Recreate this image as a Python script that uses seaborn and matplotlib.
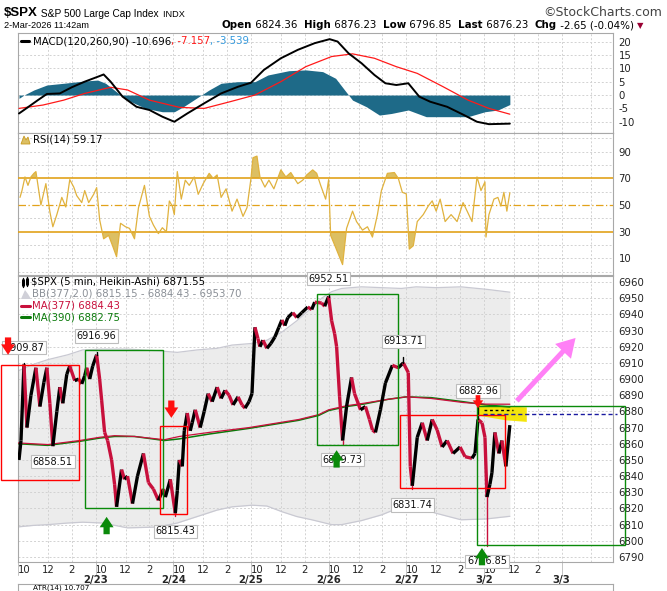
import matplotlib
matplotlib.use("Agg")
import matplotlib.pyplot as plt
import numpy as np
import pandas as pd
import seaborn as sns
from matplotlib.collections import LineCollection
from matplotlib.patches import Rectangle, Polygon

# x values everywhere: 5-minute bar number counted from the Fri 2/20 09:30 open
# (78 bars per session, sessions packed back to back like the original chart)
SESSION_DAYS = ["2/20", "2/23", "2/24", "2/25", "2/26", "2/27", "3/2", "3/3"]
HOUR_LABELS = ["10", "12", "2"]
HOUR_BARS = [6, 30, 54]
BARS_PER_DAY = 78

# Heikin-Ashi closes
price_bar = [1, 3, 6, 9, 13, 18, 22, 26, 29, 32,
             35, 39, 42, 45, 49, 52, 57, 61, 64, 67,
             69, 72, 75, 79, 82, 84, 87, 90, 94, 97,
             99, 104, 107, 110, 115, 120, 126, 131, 136, 141,
             146, 148, 153, 158, 160, 162, 165, 167, 170, 173,
             175, 178, 183, 187, 191, 195, 200, 204, 208, 212,
             216, 221, 225, 228, 232, 235, 238, 241, 243, 246,
             250, 254, 258, 262, 265, 268, 271, 276, 280, 285,
             291, 295, 298, 305, 308, 312, 315, 318, 320, 323,
             326, 330, 335, 338, 344, 349, 353, 356, 359, 364,
             369, 376, 382, 387, 392, 394, 396, 401, 406, 411,
             416, 421, 426, 431, 437, 444, 449, 456, 459, 462,
             466, 469, 471, 474, 476, 479, 483, 486, 490, 494]
price_close = [6850, 6862, 6909, 6870, 6890, 6907, 6883, 6898, 6907, 6885,
               6858.5, 6880, 6895, 6885, 6903, 6908, 6899, 6900, 6897, 6902,
               6907, 6900, 6908, 6915, 6900, 6887, 6867, 6862, 6850, 6835,
               6821, 6844, 6838, 6840, 6823, 6840, 6854, 6836, 6832, 6825,
               6832, 6827, 6838, 6817, 6831, 6850, 6846, 6868, 6879, 6868,
               6873, 6881, 6870, 6880, 6891, 6886, 6895, 6888, 6893, 6890,
               6884, 6889, 6884, 6882, 6886, 6891, 6932, 6925, 6920, 6924,
               6919, 6922, 6926, 6932, 6936.5, 6933, 6938, 6941, 6938, 6941,
               6944.5, 6943, 6947.5, 6947, 6945, 6951, 6936, 6928, 6920, 6889,
               6862, 6883, 6901, 6891, 6881, 6883, 6875, 6868.5, 6867, 6881,
               6897.5, 6908.5, 6907, 6910, 6904, 6846, 6834, 6864, 6873, 6862,
               6875, 6868.5, 6858, 6862, 6854, 6858, 6852, 6851, 6854, 6875,
               6873, 6864, 6827, 6835, 6842, 6867, 6854, 6862, 6846, 6871.5]

# labelled highs / lows
ext_bar = [6, 79, 35, 158, 312, 326, 387, 396, 462, 471]
ext_val = [6909.87, 6916.96, 6858.51, 6815.43, 6952.51, 6859.73, 6913.71, 6831.74, 6882.96, 6796.85]
ext_kind = ["high", "high", "low", "low", "high", "low", "high", "low", "high", "low"]

# Bollinger bands (377, 2.0)
bb_bar = [0, 15, 30, 50, 65, 85, 110, 140, 160, 180, 200, 215, 235, 250, 265, 280, 295, 305, 315, 325,
          345, 365, 385, 400, 420, 445, 470, 494]
bb_upper = [6905, 6909, 6912, 6915, 6918, 6918.5, 6918.5, 6917.5, 6916.5, 6918, 6919, 6921, 6922, 6924,
            6929, 6936, 6944, 6950, 6954, 6956, 6957, 6956.5, 6956, 6957, 6956.5, 6957, 6955.5, 6953.7]
bb_lower = [6808.6, 6809.5, 6810, 6811, 6811.5, 6811, 6808, 6808.5, 6811, 6815, 6819, 6821, 6822, 6821.5,
            6818, 6815, 6813, 6811.5, 6810, 6810, 6812.5, 6816, 6821, 6821, 6817, 6813, 6813.5, 6815.15]

# moving averages
ma_bar = [0, 30, 62, 82, 97, 117, 147, 162, 192, 232, 282, 302, 312, 330, 347, 372, 390, 415, 447, 470, 494]
ma377 = [6860.5, 6859.5, 6862, 6864, 6865, 6864.5, 6862.5, 6864.5, 6867, 6870, 6875, 6878, 6881, 6883.5,
         6885, 6887.5, 6889, 6888, 6885.5, 6884.5, 6884.43]
ma390 = [6860, 6859, 6861.5, 6863.5, 6864.5, 6864.5, 6862, 6863, 6866, 6869.5, 6874.5, 6877.5, 6880.5,
         6883, 6884.5, 6887.5, 6889, 6888.5, 6886, 6884, 6882.75]

# MACD(120,260,90)
macd_bar = [1, 6, 20, 29, 42, 54, 67, 82, 86, 93, 105, 119, 132, 145, 157, 170, 187, 204, 221, 234,
            247, 264, 281, 298, 313, 321, 332, 345, 358, 369, 380, 392, 403, 414, 431, 448, 461, 473, 494]
macd_line = [-6.9, -5.6, -1.9, 0.4, 0.6, 2.9, 5, 7.1, 7.7, 5, -0.6, -4.4, -5.6, -8.1, -10, -6.9, -3.1,
             0.6, 3.1, 4.6, 9.4, 13.75, 16.9, 19.4, 20.9, 20, 15.6, 11.9, 7.5, 4.4, 3.75, 4.4, -0.6,
             -2.5, -4.4, -7.5, -10, -10.9, -10.7]
signal_bar = [1, 25, 46, 67, 93, 110, 132, 162, 187, 213, 238, 264, 289, 315, 336, 358, 380, 401, 427,
              452, 473, 494]
signal_line = [-5, -3.75, -1.9, 0.6, 2.9, 1.9, -1.9, -4.6, -5, -2.5, 0, 5, 10.6, 14.4, 15.4, 13.75,
               10.6, 8.1, 3.1, -1.9, -5, -7.16]
hist_bar = [1, 6, 16, 29, 46, 67, 80, 88, 101, 110, 128, 145, 157, 166, 179, 192, 204, 221, 238, 251,
            272, 289, 306, 319, 328, 336, 350, 363, 375, 392, 410, 431, 452, 469, 482, 494]
hist_vals = [-1.25, 0, 1.9, 3.75, 4.4, 5.25, 5.6, 4.4, 0.6, -1.9, -5, -6.25, -6.25, -4.4, -1.25, 1.9,
             4.4, 5, 5, 7.5, 9.1, 9.4, 8.75, 6.25, 1.9, -1.9, -4.4, -7.5, -6.9, -5.6, -8.1, -8.1,
             -8.1, -6.25, -5.6, -3.54]

# RSI(14)
rsi_bar = [2, 4, 7, 10, 13, 16, 18, 23, 28, 32, 35, 39, 44, 48, 52, 56, 59, 64, 67, 71,
           76, 79, 82, 86, 91, 95, 99, 103, 108, 112, 117, 121, 127, 132, 136, 141, 145, 149, 152, 155,
           157, 160, 164, 168, 172, 177, 181, 186, 192, 196, 200, 204, 209, 215, 220, 226, 230, 234, 236, 240,
           243, 248, 252, 257, 264, 269, 274, 281, 286, 290, 296, 300, 304, 309, 312, 314, 319, 326, 330, 336,
           340, 346, 351, 356, 361, 365, 371, 378, 382, 386, 390, 393, 397, 401, 407, 412, 416, 420, 424, 429,
           435, 441, 447, 452, 456, 461, 465, 469, 470, 473, 478, 482, 485, 488, 491, 494]
rsi_vals = [55.7, 60.8, 71, 64.7, 71, 73.7, 75, 50, 66, 45, 33.7, 42.8, 55.7, 48.5, 69, 63.4, 57, 51.8, 60.8, 51.8,
            58, 63, 39, 24.7, 27.3, 19.5, 11.3, 36.3, 33.7, 32.5, 24.7, 48, 64.7, 41.5, 35, 28.6, 33, 29.9, 53, 49.2,
            42.8, 75, 54.4, 68.6, 64.7, 71, 58, 66, 73.7, 69.9, 72.5, 55.7, 62.1, 45.4, 54.4, 41.5, 48, 69.9, 85.4, 86.6,
            71, 63.4, 68.6, 62.1, 76.3, 71, 74.3, 66, 68.6, 72.5, 76.3, 73.7, 64.7, 54.4, 69, 27.3, 18.3, 5.4, 32.5, 45.4,
            37.6, 31.2, 33.7, 26, 42.8, 60.8, 73.7, 74.3, 69.9, 59.5, 58.3, 17, 19.5, 37.6, 42.8, 49.2, 53.1, 45.4, 54.4, 37.6,
            42.8, 37.6, 51.8, 44, 37.6, 71, 60.8, 67.3, 26, 42.8, 54.4, 55.7, 49.2, 59.5, 45.4, 59.17]

# hand-drawn annotations on the price panel (bar, price)
box_x0 = [-17, 67, 143, 300, 384, 461]
box_x1 = [61, 146, 170, 382, 489, 610]
box_lo = [6837.6, 6820.3, 6816.6, 6859.3, 6832.7, 6797.5]
box_hi = [6908.7, 6918, 6871, 6952.6, 6877.8, 6883.4]
box_color = ["#ff0000", "#0a8a0a", "#ff0000", "#0a8a0a", "#ff0000", "#0a8a0a"]
down_arrow_bar = [-10, 154, 462]
down_arrow_tip = [6915, 6876, 6882]
up_arrow_bar = [89, 320, 466]
up_arrow_tip = [6814.8, 6856, 6795.6]
hl_bar = [461, 475, 511, 511, 490, 461]
hl_price = [6884, 6883.5, 6882.5, 6873.5, 6874.5, 6877.5]
target_price = 6878.4

W, H = 667, 591
X_MIN, X_MAX = 0, 597.6
DOWN = "#c8103c"
GREEN = "#0a7a0a"
GRID = "#d2d2d2"
SANS = ["Liberation Sans", "DejaVu Sans"]
VERD = ["DejaVu Sans"]


def panel(fig, top, bottom):
    ax = fig.add_axes([18 / W, 1 - bottom / H, 595 / W, (bottom - top) / H])
    ax.set_facecolor("white")
    for s in ax.spines.values():
        s.set_color("#a8a8a8")
        s.set_linewidth(0.8)
    ax.yaxis.tick_right()
    ax.tick_params(axis="y", length=0, pad=4, labelsize=7.3, labelcolor="#222222")
    ax.tick_params(axis="x", length=0, labelbottom=False)
    ax.set_xlim(X_MIN, X_MAX)
    for d in range(len(SESSION_DAYS)):
        for off in (0, 30, 54):
            b = d * BARS_PER_DAY + off
            if b < X_MAX:
                ax.axvline(b, color=GRID, lw=0.7, ls=(0, (2, 2)), zorder=1)
    return ax


def hgrid(ax, levels):
    for v in levels:
        ax.axhline(v, color=GRID, lw=0.7, ls=(0, (2, 2)), zorder=1)


def chain(ax, x, y, parts):
    prev = None
    for text, color, weight, size, fam in parts:
        kw = dict(fontsize=size, color=color, fontweight=weight, va="bottom", ha="left", family=fam)
        if prev is None:
            prev = ax.text(x, y, text, **kw)
        else:
            prev = ax.annotate(text, xy=(1, 0), xycoords=prev, **kw)
    return prev


def chain_dv(ax, x, y, parts, size=7.3):
    prev = None
    for text, color in parts:
        kw = dict(fontsize=size, color=color, va="center", ha="left")
        if prev is None:
            prev = ax.text(x, y, text, **kw)
        else:
            prev = ax.annotate(text, xy=(1, 0.5), xycoords=prev, **kw)


def block_arrow(ax, bar, tip, up, color, scale=1.0):
    d = -1 if up else 1
    ax.annotate("", xy=(bar, tip), xycoords="data",
                xytext=(0, d * 12.5 * scale), textcoords="offset points",
                arrowprops=dict(arrowstyle="simple,head_length=0.75,head_width=1.0,tail_width=0.45",
                                fc=color, ec="none", mutation_scale=10 * scale,
                                shrinkA=0, shrinkB=0),
                annotation_clip=False, zorder=8)


def main():
    sns.set_theme(style="white")
    plt.rcParams["font.family"] = ["DejaVu Sans"]
    plt.rcParams["axes.unicode_minus"] = False

    fig = plt.figure(figsize=(W / 100, H / 100), dpi=100)
    fig.patch.set_facecolor("white")

    ax_macd = panel(fig, 33, 133)
    ax_rsi = panel(fig, 133, 275)
    ax_px = panel(fig, 276, 562)

    # ---- MACD ----
    ax_macd.set_ylim(-14.2, 23.2)
    ax_macd.set_yticks([-10, -5, 0, 5, 10, 15, 20])
    hgrid(ax_macd, [-10, -5, 0, 5, 10, 15, 20])
    ax_macd.fill_between(hist_bar, hist_vals, 0, color="#1e6a88", lw=0, zorder=2)
    sns.lineplot(x=signal_bar, y=signal_line, ax=ax_macd, color="#ff1a1a", lw=0.9, zorder=3)
    sns.lineplot(x=macd_bar, y=macd_line, ax=ax_macd, color="black", lw=1.4, zorder=4)

    # ---- RSI ----
    ax_rsi.set_ylim(-2.4, 103.9)
    ax_rsi.set_yticks([10, 30, 50, 70, 90])
    hgrid(ax_rsi, [0, 10, 20, 40, 60, 80, 90, 100])
    rb = np.array(rsi_bar)
    rv = np.array(rsi_vals)
    ax_rsi.fill_between(rb, rv, 70, where=rv > 70, interpolate=True, color="#dcbf63", lw=0, zorder=2)
    ax_rsi.fill_between(rb, rv, 30, where=rv < 30, interpolate=True, color="#dcbf63", lw=0, zorder=2)
    for lvl in (30, 70):
        ax_rsi.axhline(lvl, color="#e2a21a", lw=1.2, zorder=3)
    ax_rsi.axhline(50, color="#e2a21a", lw=0.9, ls=(0, (6, 2, 1, 2)), zorder=3)
    sns.lineplot(x=rsi_bar, y=rsi_vals, ax=ax_rsi, color="#e0b23e", lw=0.9, zorder=4)

    # ---- price ----
    ax_px.set_ylim(6786.9, 6963.7)
    price_ticks = list(range(6790, 6961, 10))
    ax_px.set_yticks(price_ticks)
    hgrid(ax_px, price_ticks)
    ax_px.fill_between(bb_bar, bb_lower, bb_upper, color="#ececec", lw=0, zorder=0.5)
    sns.lineplot(x=bb_bar, y=bb_upper, ax=ax_px, color="#c9c9d2", lw=0.9, zorder=1.5)
    sns.lineplot(x=bb_bar, y=bb_lower, ax=ax_px, color="#c9c9d2", lw=0.9, zorder=1.5)

    # highlighter stroke under the candles
    ax_px.add_patch(Polygon(list(zip(hl_bar, hl_price)), closed=True, fc="#f4e400", ec="none",
                            alpha=0.95, zorder=2))

    sns.lineplot(x=ma_bar, y=ma390, ax=ax_px, color=GREEN, lw=1.1, zorder=3)
    sns.lineplot(x=ma_bar, y=ma377, ax=ax_px, color=DOWN, lw=0.9, zorder=3.1)

    df = pd.DataFrame({"bar": price_bar, "close": price_close})
    pts = df[["bar", "close"]].to_numpy()
    segs = np.stack([pts[:-1], pts[1:]], axis=1)
    cols = ["black" if b >= a else DOWN for a, b in zip(df["close"][:-1], df["close"][1:])]
    ax_px.add_collection(LineCollection(segs, colors=cols, linewidths=2.4, zorder=4,
                                        capstyle="butt"))
    close_at = dict(zip(price_bar, price_close))
    for b, v, k in zip(ext_bar, ext_val, ext_kind):
        ax_px.plot([b, b], [close_at[b], v], color="black" if k == "high" else DOWN, lw=1.0, zorder=4)

    # boxes, lines, arrows
    for x0, x1, lo, hi, c in zip(box_x0, box_x1, box_lo, box_hi, box_color):
        ax_px.add_patch(Rectangle((x0, lo), x1 - x0, hi - lo, fill=False, ec=c, lw=1.0,
                                  zorder=5, clip_on=False))
    ax_px.plot([467, 602], [target_price, target_price], color="#1a1aa0", lw=1.0,
               ls=(0, (3, 2)), zorder=5, clip_on=False)
    ax_px.plot([468, 497], [6881, 6881], color="black", lw=1.0, ls=(0, (2, 2)), zorder=5)
    for b, t in zip(down_arrow_bar[:2], down_arrow_tip[:2]):
        block_arrow(ax_px, b, t, False, "#ff1010")
    block_arrow(ax_px, down_arrow_bar[2], down_arrow_tip[2], False, "#ff1010", 0.75)
    for b, t in zip(up_arrow_bar, up_arrow_tip):
        block_arrow(ax_px, b, t, True, "#0a8a0a")
    ax_px.annotate("", xy=(560, 6925.4), xytext=(501, 6886.5),
                   arrowprops=dict(arrowstyle="simple,head_length=1.1,head_width=1.3,tail_width=0.3",
                                   fc="#ff80f6", ec="none", mutation_scale=12, shrinkA=0, shrinkB=0),
                   zorder=8)

    for b, v, k in zip(ext_bar, ext_val, ext_kind):
        off = 7.5 if k == "high" else -7.5
        ax_px.annotate(f"{v:.2f}", xy=(b, v), xytext=(0, off), textcoords="offset points",
                       ha="center", va="bottom" if k == "high" else "top", fontsize=7,
                       color="#111111", annotation_clip=False, zorder=7,
                       bbox=dict(boxstyle="square,pad=0.18", fc="white", ec="#bdbdbd", lw=0.8))

    # time axis
    hour_pos, hour_lab = [], []
    for d in range(len(SESSION_DAYS) - 1):
        for hb, hl in zip(HOUR_BARS, HOUR_LABELS):
            hour_pos.append(d * BARS_PER_DAY + hb)
            hour_lab.append(hl)
    ax_px.set_xticks(hour_pos, labels=hour_lab)
    ax_px.tick_params(axis="x", labelbottom=True, length=0, pad=2, labelsize=7.3, labelcolor="#222222")
    for d, day in enumerate(SESSION_DAYS):
        b = d * BARS_PER_DAY
        ax_px.axvline(b, ymin=-0.045, ymax=0, color="#c4c4c4", lw=0.7, clip_on=False)
        if d == 0:
            continue
        ax_px.annotate(day, xy=(b, 0), xycoords=("data", "axes fraction"), xytext=(0, -9.5),
                       textcoords="offset points", ha="center", va="top", fontsize=7.3,
                       fontweight="bold", annotation_clip=False)
    ax_px.set_xlim(X_MIN, X_MAX)

    # partial panel at the bottom edge
    ax_atr = fig.add_axes([18 / W, 0, 595 / W, 7 / H])
    ax_atr.set_xticks([])
    ax_atr.set_yticks([])
    for s in ax_atr.spines.values():
        s.set_color("#a8a8a8")
        s.set_linewidth(0.8)

    # overlay for header / legends, in pixel units
    ov = fig.add_axes([0, 0, 1, 1])
    ov.set_xlim(0, W)
    ov.set_ylim(H, 0)
    ov.axis("off")

    chain(ov, 4, 19, [("$SPX", "black", "bold", 9.5, SANS),
                      (" S&P 500 Large Cap Index", "black", "normal", 7.3, SANS),
                      ("  INDX", "black", "normal", 6.6, SANS)])
    ov.text(662, 13, "\u00a9StockCharts.com", ha="right", va="center", fontsize=9,
            color="#444444", family=VERD)
    chain(ov, 4, 30, [("2-Mar-2026 11:42am", "black", "normal", 6.6, SANS)])
    chain(ov, 222, 30, [("Open", "black", "bold", 7.4, VERD), (" 6824.36  ", "black", "normal", 7.4, VERD),
                        ("High", "black", "bold", 7.4, VERD), (" 6876.23  ", "black", "normal", 7.4, VERD),
                        ("Low", "black", "bold", 7.4, VERD), (" 6796.85  ", "black", "normal", 7.4, VERD),
                        ("Last", "black", "bold", 7.4, VERD), (" 6876.23  ", "black", "normal", 7.4, VERD),
                        ("Chg", "black", "bold", 7.4, VERD), (" -2.65 (-0.04%) ", "black", "normal", 7.4, VERD),
                        ("\u25bc", "#990033", "normal", 6.0, VERD)])

    # MACD legend
    ov.plot([21, 29], [41, 41], color="black", lw=2.2)
    chain_dv(ov, 33, 41, [("MACD(120,260,90) -10.696", "black"), (", -7.157", "#ff1a1a"),
                          (", -3.539", "#3399dd")])
    # RSI legend
    ov.add_patch(Polygon([(21, 144), (24, 136), (26, 140), (28, 137), (30, 144)], closed=True,
                         fc="#dcbf63", ec="#c89a20", lw=0.6))
    chain_dv(ov, 33, 140, [("RSI(14) 59.17", "black")])
    # price legends
    ov.plot([23, 23], [278, 287], color="black", lw=1.0)
    ov.plot([23, 23], [280, 285], color="black", lw=2.2)
    ov.plot([27, 27], [277, 286], color="black", lw=1.0)
    ov.plot([27, 27], [279, 284], color="black", lw=2.2)
    chain_dv(ov, 31, 282, [("$SPX (5 min, Heikin-Ashi) 6871.55", "black")])
    ov.add_patch(Polygon([(21, 299), (25, 290), (28, 294), (31, 299)], closed=True,
                         fc="#d0d0d8", ec="none"))
    chain_dv(ov, 32, 294, [("BB(377,2.0) 6815.15 - 6884.43 - 6953.70", "#8a8f96")])
    ov.plot([21, 30], [306, 306], color=DOWN, lw=2.2)
    chain_dv(ov, 32, 306, [("MA(377) 6884.43", DOWN)])
    ov.plot([21, 30], [317, 317], color=GREEN, lw=2.2)
    chain_dv(ov, 32, 317, [("MA(390) 6882.75", GREEN)])
    chain_dv(ov, 33, 587.8, [("ATR(14) 10.707", "black")], size=5.2)

    fig.savefig("out.png", dpi=100, facecolor="white")


if __name__ == "__main__":
    main()
